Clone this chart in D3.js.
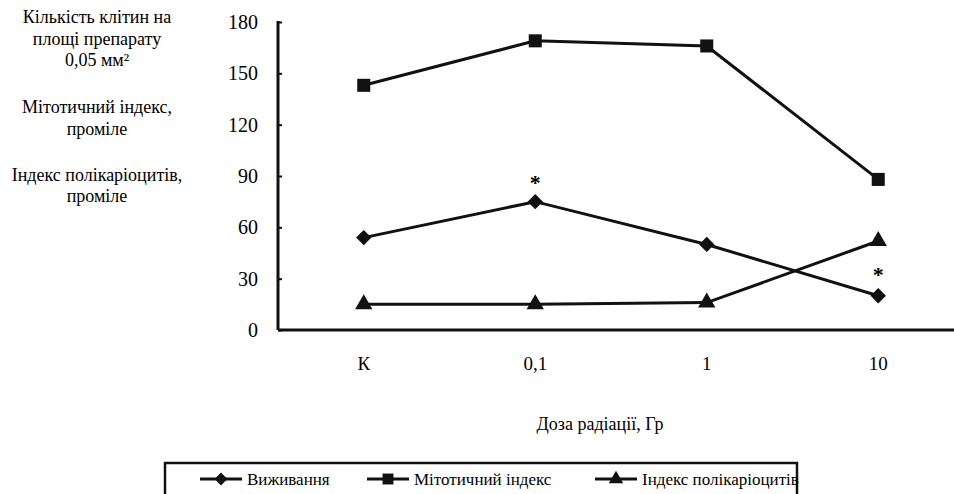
<!DOCTYPE html>
<html>
<head>
<meta charset="utf-8">
<script src="https://cdn.jsdelivr.net/npm/d3@7"></script>
<style>
body { margin: 0; background: #fff; }
</style>
</head>
<body>
<svg width="954" height="494"></svg>
<script>
const categories = ["К", "0,1", "1", "10"];
const survival = [54, 75, 50, 20];
const mitotic = [143, 169, 166, 88];
const polykaryocyte = [15, 15, 16, 52];
const yTicks = [0, 30, 60, 90, 120, 150, 180];
const starred = [[1, 90], [3, 36]]; // category index, value for asterisk

const svg = d3.select('svg');
const plotLeft = 278, plotRight = 964, plotTop = 22, plotBottom = 330;

const x = d3.scaleBand().domain(categories).range([plotLeft, plotRight]);
const y = d3.scaleLinear().domain([0, 180]).range([plotBottom, plotTop]);
const cx = c => x(c) + x.bandwidth() / 2;

// text helper, same font on every label
const label = (sel, size) => sel
    .style('font-family', d => '"Times New Roman"')
    .attr('font-size', size);

// y axis
const yAxis = svg.append('g')
    .attr('transform', 'translate(' + plotLeft + ',0)')
    .call(d3.axisRight(y).tickValues(yTicks).tickSize(4).tickFormat(''));
yAxis.select('.domain').attr('stroke', '#111').attr('stroke-width', 3)
    .attr('d', 'M0,' + (plotTop - 1) + 'V' + plotBottom);
yAxis.selectAll('.tick line').attr('stroke', '#111').attr('stroke-width', 2);

svg.selectAll('.ylab')
    .data(yTicks)
    .enter()
    .append('text')
    .call(label, 20)
    .attr('x', 258)
    .attr('y', d => y(d) + 7)
    .attr('text-anchor', 'end')
    .text(d => d);

// x axis
svg.append('line')
    .attr('x1', plotLeft).attr('x2', 954)
    .attr('y1', plotBottom).attr('y2', plotBottom)
    .attr('stroke', '#111').attr('stroke-width', 3);

svg.selectAll('.xlab')
    .data(categories)
    .enter()
    .append('text')
    .call(label, 19)
    .attr('x', d => cx(d))
    .attr('y', 370)
    .attr('text-anchor', 'middle')
    .text(d => d);

svg.append('text')
    .call(label, 18)
    .attr('x', 600).attr('y', 430)
    .attr('text-anchor', 'middle')
    .text('Доза радіації, Гр');

// left titles
const titleLines = [
    ['Кількість клітин на', 23],
    ['площі препарату', 45],
    ['0,05 мм²', 66],
    ['Мітотичний індекс,', 113],
    ['проміле', 135],
    ['Індекс полікаріоцитів,', 181],
    ['проміле', 202]
];
svg.selectAll('.ttl')
    .data(titleLines)
    .enter()
    .append('text')
    .call(label, 18)
    .attr('x', 97)
    .attr('y', d => d[1])
    .attr('text-anchor', 'middle')
    .text(d => d[0]);

// series
const series = [
    {name: 'Виживання', values: survival, sym: d3.symbolDiamond2, size: 150},
    {name: 'Мітотичний індекс', values: mitotic, sym: d3.symbolSquare, size: 170},
    {name: 'Індекс полікаріоцитів', values: polykaryocyte, sym: d3.symbolTriangle, size: 130}
];

const line = d3.line()
    .x((d, i) => cx(categories[i]))
    .y(d => y(d));

series.forEach(s => {
    svg.append('path')
        .attr('d', line(s.values))
        .attr('fill', 'none')
        .attr('stroke', '#111')
        .attr('stroke-width', 3);
    svg.selectAll(null)
        .data(s.values)
        .enter()
        .append('path')
        .attr('d', d3.symbol().type(s.sym).size(s.size))
        .attr('transform', (d, i) => 'translate(' + cx(categories[i]) + ',' + y(d) + ')')
        .attr('fill', '#111');
});

svg.selectAll('.star')
    .data(starred)
    .enter()
    .append('text')
    .call(label, 22)
    .attr('x', d => cx(categories[d[0]]))
    .attr('y', d => y(d[1]) + 14)
    .attr('text-anchor', 'middle')
    .attr('font-weight', 'bold')
    .text('*');

// legend
svg.append('rect')
    .attr('x', 165).attr('y', 463)
    .attr('width', 632).attr('height', 40)
    .attr('fill', 'none')
    .attr('stroke', '#111')
    .attr('stroke-width', 2.5);

const legendX = [200, 367, 595];
series.forEach((s, i) => {
    const g = svg.append('g').attr('transform', 'translate(' + legendX[i] + ',479)');
    g.append('line').attr('x1', 0).attr('x2', 42)
        .attr('stroke', '#111').attr('stroke-width', 3);
    g.append('path')
        .attr('d', d3.symbol().type(s.sym).size(s.size * 0.7))
        .attr('transform', 'translate(21,0)')
        .attr('fill', '#111');
    g.append('text')
        .call(label, 17)
        .attr('x', 47).attr('y', 6)
        .text(s.name);
});
</script>
</body>
</html>
